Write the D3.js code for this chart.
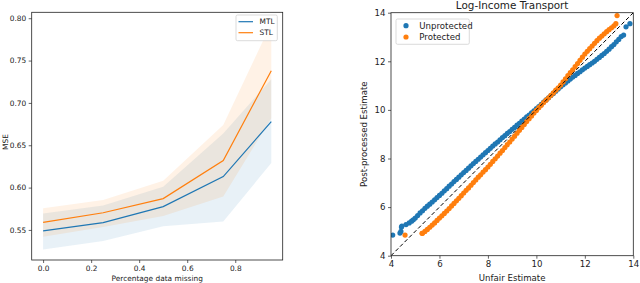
<!DOCTYPE html>
<html><head><meta charset="utf-8">
<script src="https://cdn.jsdelivr.net/npm/d3@7"></script>
<style>body{margin:0;background:#fff}svg{display:block;font-family:"DejaVu Sans",sans-serif}</style>
</head><body>
<svg id="c" width="640" height="283"></svg>
<script>
// ---- Left chart data ----
const missing = [0, 0.25, 0.5, 0.75, 0.95];
const mtlMean = [0.549, 0.5586, 0.5775, 0.613, 0.678];
const mtlLow  = [0.527, 0.537, 0.5545, 0.560, 0.629];
const mtlHigh = [0.5695, 0.579, 0.601, 0.664, 0.728];
const stlMean = [0.559, 0.5703, 0.587, 0.632, 0.738];
const stlLow  = [0.542, 0.5535, 0.5665, 0.5895, 0.682];
const stlHigh = [0.5757, 0.5855, 0.608, 0.674, 0.794];
const leftXTicks = [0.0, 0.2, 0.4, 0.6, 0.8];
const leftYTicks = [0.55, 0.60, 0.65, 0.70, 0.75, 0.80];
const leftSeries = ["MTL", "STL"];

// ---- Right chart data ----
const unprotected = [
[4.07,4.85],[4.37,4.93],[4.41,5.00],[4.43,5.18],[4.45,5.22],[4.62,5.28],[4.75,5.35],[4.85,5.42],[4.92,5.48],
[5.0,5.55],[5.1,5.65],[5.2,5.76],[5.3,5.85],[5.4,5.95],[5.5,6.04],[5.6,6.12],[5.7,6.21],[5.8,6.30],[5.9,6.39],
[6.0,6.48],[6.1,6.57],[6.2,6.67],[6.3,6.76],[6.4,6.86],[6.5,6.95],[6.6,7.05],[6.7,7.14],[6.8,7.23],[6.9,7.33],
[7.0,7.42],[7.1,7.51],[7.2,7.60],[7.3,7.70],[7.4,7.79],[7.5,7.88],[7.6,7.97],[7.7,8.06],[7.8,8.15],[7.9,8.24],
[8.0,8.33],[8.1,8.42],[8.2,8.51],[8.3,8.60],[8.4,8.68],[8.5,8.77],[8.6,8.86],[8.7,8.94],[8.8,9.03],[8.9,9.11],
[9.0,9.20],[9.1,9.28],[9.2,9.37],[9.3,9.45],[9.4,9.54],[9.5,9.62],[9.6,9.71],[9.7,9.79],[9.8,9.88],[9.9,9.96],
[10.0,10.05],[10.1,10.14],[10.2,10.23],[10.3,10.32],[10.4,10.41],[10.5,10.50],[10.6,10.59],[10.7,10.68],[10.8,10.77],[10.9,10.86],
[11.0,10.95],[11.1,11.03],[11.2,11.11],[11.3,11.19],[11.4,11.27],[11.5,11.35],[11.6,11.42],[11.7,11.50],[11.8,11.57],[11.9,11.65],
[12.0,11.72],[12.1,11.79],[12.2,11.86],[12.3,11.93],[12.4,12.00],[12.5,12.08],[12.6,12.16],[12.7,12.24],[12.8,12.32],[12.9,12.41],
[13.0,12.50],[13.1,12.60],[13.2,12.69],[13.3,12.80],[13.4,12.90],[13.5,13.02],[13.6,13.08],[13.7,13.42],[13.86,13.55]
];
const protectedPts = [
[4.58,4.85],[5.28,4.92],[5.3,4.92],[5.4,5.00],[5.5,5.08],[5.6,5.17],[5.7,5.26],[5.8,5.35],[5.9,5.45],
[6.0,5.55],[6.1,5.64],[6.2,5.74],[6.3,5.84],[6.4,5.94],[6.5,6.05],[6.6,6.15],[6.7,6.26],[6.8,6.36],[6.9,6.47],
[7.0,6.58],[7.1,6.69],[7.2,6.79],[7.3,6.90],[7.4,7.01],[7.5,7.12],[7.6,7.23],[7.7,7.33],[7.8,7.44],[7.9,7.54],
[8.0,7.65],[8.1,7.76],[8.2,7.88],[8.3,7.99],[8.4,8.10],[8.5,8.22],[8.6,8.33],[8.7,8.45],[8.8,8.57],[8.9,8.68],
[9.0,8.80],[9.1,8.92],[9.2,9.04],[9.3,9.16],[9.4,9.28],[9.5,9.40],[9.6,9.52],[9.7,9.64],[9.8,9.75],[9.9,9.87],
[10.0,9.98],[10.1,10.09],[10.2,10.19],[10.3,10.30],[10.4,10.40],[10.5,10.50],[10.6,10.60],[10.7,10.70],[10.8,10.81],[10.9,10.91],
[11.0,11.02],[11.1,11.15],[11.2,11.28],[11.3,11.41],[11.4,11.53],[11.5,11.65],[11.6,11.78],[11.7,11.91],[11.8,12.04],[11.9,12.17],
[12.0,12.30],[12.1,12.41],[12.2,12.52],[12.3,12.63],[12.4,12.74],[12.5,12.85],[12.6,12.95],[12.7,13.04],[12.8,13.13],[12.9,13.22],
[13.0,13.30],[13.1,13.38],[13.2,13.46],[13.28,13.55],[13.33,13.88]
];
const rightTicks = [4, 6, 8, 10, 12, 14];
const rightSeries = ["Unprotected", "Protected"];

const BLUE = "#1f77b4", ORANGE = "#ff7f0e";
const svg = d3.select("#c");

// ================= LEFT CHART =================
{
  const L = {l:31.7, r:282.7, t:12.3, b:260};
  const x = d3.scaleLinear().domain([-0.0475, 0.9975]).range([L.l, L.r]);
  const y = d3.scaleLinear().domain([0.5145, 0.807]).range([L.b, L.t]);
  const g = svg.append("g");
  const area = (lo, hi) => d3.area().x((d,i)=>x(missing[i])).y0((d,i)=>y(lo[i])).y1((d,i)=>y(hi[i]))(missing);
  const line = (m) => d3.line().x((d,i)=>x(missing[i])).y((d,i)=>y(m[i]))(missing);
  g.append("path").attr("d", area(mtlLow, mtlHigh)).attr("fill", BLUE).attr("fill-opacity", 0.1);
  g.append("path").attr("d", area(stlLow, stlHigh)).attr("fill", ORANGE).attr("fill-opacity", 0.1);
  g.append("path").attr("d", line(mtlMean)).attr("fill","none").attr("stroke",BLUE).attr("stroke-width",1.2);
  g.append("path").attr("d", line(stlMean)).attr("fill","none").attr("stroke",ORANGE).attr("stroke-width",1.2);

  const fs = 7.4;
  const xa = g.append("g").attr("transform",`translate(0,${L.b})`)
    .call(d3.axisBottom(x).tickValues(leftXTicks).tickFormat(d3.format(".1f")).tickSize(3).tickPadding(2.5));
  const ya = g.append("g").attr("transform",`translate(${L.l},0)`)
    .call(d3.axisLeft(y).tickValues(leftYTicks).tickFormat(d3.format(".2f")).tickSize(3).tickPadding(2.5));
  [xa, ya].forEach(a => {
    a.select(".domain").remove();
    a.selectAll("text").attr("font-size", fs).attr("font-family","DejaVu Sans").attr("fill","#222");
    a.selectAll("line").attr("stroke","#222").attr("stroke-width",0.7);
  });
  g.append("rect").attr("x",L.l).attr("y",L.t).attr("width",L.r-L.l).attr("height",L.b-L.t)
    .attr("fill","none").attr("stroke","#222").attr("stroke-width",0.8);
  g.append("text").attr("x",(L.l+L.r)/2).attr("y",281).attr("text-anchor","middle")
    .attr("font-size",fs).attr("fill","#222").text("Percentage data missing");
  g.append("text").attr("transform",`translate(8,142) rotate(-90)`).attr("text-anchor","middle")
    .attr("font-size",fs).attr("fill","#222").text("MSE");

  // legend
  const lg = g.append("g");
  lg.append("rect").attr("x",236).attr("y",15).attr("width",41.3).attr("height",25.7).attr("rx",1.5)
    .attr("fill","#fff").attr("fill-opacity",0.8).attr("stroke","#ccc").attr("stroke-width",0.7);
  leftSeries.forEach((s,i) => {
    const yy = 21.7 + i*11;
    lg.append("line").attr("x1",238.5).attr("x2",253).attr("y1",yy).attr("y2",yy)
      .attr("stroke", i===0?BLUE:ORANGE).attr("stroke-width",1.2);
    lg.append("text").attr("x",259.5).attr("y",yy).attr("dy","0.35em").attr("font-size",fs)
      .attr("fill","#222").text(s);
  });
}

// ================= RIGHT CHART =================
{
  const R = {l:391, r:633.3, t:12.7, b:255.7};
  const x = d3.scaleLinear().domain([4,14]).range([R.l, R.r]);
  const y = d3.scaleLinear().domain([4,14]).range([R.b, R.t]);
  const g = svg.append("g");
  const clip = g.append("clipPath").attr("id","rc");
  clip.append("rect").attr("x",R.l).attr("y",R.t).attr("width",R.r-R.l).attr("height",R.b-R.t);
  const pg = g.append("g").attr("clip-path","url(#rc)");
  pg.selectAll("circle.u").data(unprotected).join("circle").attr("class","u")
    .attr("cx",d=>x(d[0])).attr("cy",d=>y(d[1])).attr("r",2.6).attr("fill",BLUE);
  pg.selectAll("circle.p").data(protectedPts).join("circle").attr("class","p")
    .attr("cx",d=>x(d[0])).attr("cy",d=>y(d[1])).attr("r",2.6).attr("fill",ORANGE);
  pg.append("line").attr("x1",x(4)).attr("y1",y(4)).attr("x2",x(14)).attr("y2",y(14))
    .attr("stroke","#000").attr("stroke-width",1.0).attr("stroke-dasharray","4,2.4");

  const fs = 8.6;
  const xa = g.append("g").attr("transform",`translate(0,${R.b})`)
    .call(d3.axisBottom(x).tickValues(rightTicks).tickFormat(d3.format("d")).tickSize(3).tickPadding(2.5));
  const ya = g.append("g").attr("transform",`translate(${R.l},0)`)
    .call(d3.axisLeft(y).tickValues(rightTicks).tickFormat(d3.format("d")).tickSize(3).tickPadding(2.5));
  [xa, ya].forEach(a => {
    a.select(".domain").remove();
    a.selectAll("text").attr("font-size", fs).attr("font-family","DejaVu Sans").attr("fill","#222");
    a.selectAll("line").attr("stroke","#222").attr("stroke-width",0.7);
  });
  g.append("rect").attr("x",R.l).attr("y",R.t).attr("width",R.r-R.l).attr("height",R.b-R.t)
    .attr("fill","none").attr("stroke","#222").attr("stroke-width",0.8);
  g.append("text").attr("x",(R.l+R.r)/2).attr("y",281).attr("text-anchor","middle")
    .attr("font-size",fs).attr("fill","#222").text("Unfair Estimate");
  g.append("text").attr("transform",`translate(366.5,${(R.t+R.b)/2}) rotate(-90)`).attr("text-anchor","middle")
    .attr("font-size",fs).attr("fill","#222").text("Post-processed Estimate");
  g.append("text").attr("x",(R.l+R.r)/2).attr("y",8.5).attr("text-anchor","middle")
    .attr("font-size",10.4).attr("fill","#222").text("Log-Income Transport");

  const lg = g.append("g");
  lg.append("rect").attr("x",396).attr("y",19).attr("width",73.3).attr("height",25.3).attr("rx",1.5)
    .attr("fill","#fff").attr("fill-opacity",0.8).attr("stroke","#ccc").attr("stroke-width",0.7);
  rightSeries.forEach((s,i) => {
    const yy = 25.7 + i*11.3;
    lg.append("circle").attr("cx",406).attr("cy",yy).attr("r",2.6).attr("fill", i===0?BLUE:ORANGE);
    lg.append("text").attr("x",419.3).attr("y",yy).attr("dy","0.35em").attr("font-size",fs)
      .attr("fill","#222").text(s);
  });
}
</script>
</body></html>
